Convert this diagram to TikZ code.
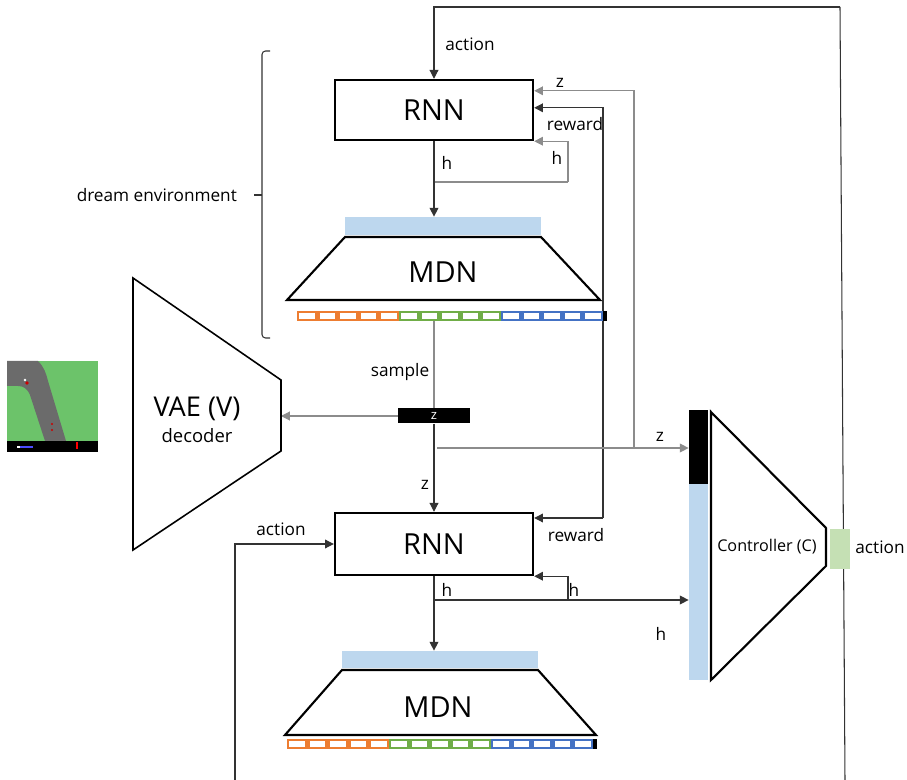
\documentclass[tikz,border=0pt]{standalone}
\usepackage{fontspec}
\setmainfont{Open Sans}
\usetikzlibrary{arrows.meta,calc}
\definecolor{mixorange}{HTML}{ED7D31}
\definecolor{mixgreen}{HTML}{70AD47}
\definecolor{mixblue}{HTML}{4472C4}
\definecolor{hidblue}{HTML}{BDD7EE}
\definecolor{actgreen}{HTML}{C5E0B4}
\definecolor{grass}{HTML}{6CC36A}
\definecolor{road}{HTML}{6B6B6B}
\begin{document}
\begin{tikzpicture}[x=0.02cm,y=-0.02cm,
  conn/.style={line width=0.6pt, draw=black!80},
  gconn/.style={line width=0.6pt, draw=black!45},
  arr/.style={-{Triangle[length=5pt,width=5pt]}},
  lbl/.style={font=\fontsize{9.8}{11}\selectfont, inner sep=1pt},
  big/.style={font=\fontsize{16.5}{18}\selectfont},
  rnnbox/.style={draw, line width=1.4pt, minimum width=3.96cm, minimum height=1.2cm, big, fill=white},
  hidbar/.style={fill=hidblue, draw=none, minimum width=3.92cm, minimum height=0.36cm, inner sep=0pt},
  trap/.style={line width=1.2pt, draw=black, line join=miter},
  mixstrip/.pic={
    \foreach \i in {0,...,14}{
      \ifnum\i<5 \def\cc{mixorange}\else\ifnum\i<10 \def\cc{mixgreen}\else\def\cc{mixblue}\fi\fi
      \fill[\cc] (\i*20.4,0) rectangle ++(20.4,10);
      \fill[white] (\i*20.4+2.4,2.2) rectangle ++(15.6,5.6);
    }
    \fill[black] (306,0) rectangle (310,10);
  }
]
\useasboundingbox (0,0) rectangle (907,780);

% ---- bracket for the dream environment ----
\draw[line width=0.6pt, black!80, rounded corners=2] (270,51) -- (262,51) -- (262,338) -- (270,338);
\draw[line width=0.6pt, black!80] (262,195) -- (254,195);
\node[lbl, anchor=east] (dream) at (239,195) {dream environment};

% ---- car racing frame ----
\begin{scope}
  \fill[grass] (7,361) rectangle (98,441);
  \fill[road] (7,361) -- (38,361) .. controls (44,367) and (46,373) .. (48,381) -- (66,441) -- (45,441) -- (30,395) .. controls (27,388) and (23,386) .. (18,386) -- (7,386) -- cycle;
  \fill[black] (7,441) rectangle (98,452);
  \fill[red!80!black] (27,383) circle (1.8);
  \fill[white] (25,380) circle (1.3);
  \fill[red!80!black] (52,424) circle (1.2);
  \fill[red!80!black] (52,430) circle (1.2);
  \fill[blue!70] (18,446.5) rectangle (33,448);
  \fill[white] (17,446.5) rectangle (20,448);
  \fill[red] (76,442) rectangle (78,449);
\end{scope}

% ---- long action loop from controller back to the dreamt RNN ----
\coordinate (actTop) at (840,7);
\coordinate (actBot) at (845,780);
\draw[conn] (actBot) -- (actTop);

% ---- RNN blocks ----
\node[rnnbox] (rnnA) at (434,110) {RNN};
\node[rnnbox, minimum height=1.24cm] (rnnB) at (434,544) {RNN};

\draw[conn,arr] (actTop) -| (rnnA.north);
\node[lbl] (actAlbl) at (470,44) {action};

% ---- z into upper RNN and into controller ----
\coordinate (zsplit) at (634,448);
\coordinate (zstart) at (437,448);
\draw[gconn,arr] (zsplit) |- ($(rnnA.north east)+(0,12)$);
\node[lbl] (zAlbl) at (560,83) {z};

% ---- reward into both RNNs ----
\coordinate (rwd) at (603,518);
\draw[conn,arr] (rwd) |- ($(rnnA.north east)+(0,29)$);
\draw[conn,arr] (rwd) -- (rnnB.east |- rwd);
\node[lbl] (rwdAlbl) at (575,124) {reward};
\node[lbl] (rwdBlbl) at (576,535) {reward};

% ---- hidden state loop, upper RNN ----
\coordinate (hA) at (434,182);
\coordinate (hAloop) at (568,182);
\draw[gconn] (hA) -- (hAloop);
\draw[gconn,arr] (hAloop) |- (rnnA.south east);
\node[lbl] (hA1) at (447,163) {h};
\node[lbl] (hA2) at (557,158) {h};

% ---- upper MDN ----
\node[hidbar] (mdnAin) at (443,226) {};
\draw[conn,arr] (rnnA.south) -- (rnnA.south |- mdnAin.north);
\draw[trap] (345,237) -- (541,237) -- (600,300) -- (287,300) -- cycle;
\node[big] (mdnA) at (443,272) {MDN};
\coordinate (sampA) at (434,321);
\draw[gconn] (sampA) -- (434,409);
\pic at (297,311) {mixstrip};
\node[lbl] (samplbl) at (400,372) {sample};

% ---- sampled z ----
\node[fill=black, minimum width=1.44cm, minimum height=0.3cm, inner sep=0pt,
      text=white, font=\fontsize{7.5}{8}\selectfont] (zbox) at (434,416) {z};
\coordinate (vaeR) at (281,416);
\draw[gconn,arr] (zbox.west) -- (vaeR);
\draw[conn,arr] (zbox.south) -- (rnnB.north);
\node[lbl] (zBlbl) at (425,485) {z};

% ---- VAE decoder ----
\draw[line width=0.9pt] (133,278) -- (281,380) -- (281,451) -- (133,550) -- cycle;
\node[font=\fontsize{15.5}{17}\selectfont] (vae) at (197,409) {VAE (V)};
\node[font=\fontsize{10.5}{12}\selectfont] (vaesub) at (197,436) {decoder};

% ---- controller ----
\node[fill=black, minimum width=0.38cm, minimum height=1.48cm, inner sep=0pt] (ctrlZ) at (698.5,447) {};
\node[fill=hidblue, minimum width=0.38cm, minimum height=3.92cm, inner sep=0pt] (ctrlH) at (698.5,582) {};
\draw[trap] (711,412) -- (826,528) -- (826,566) -- (711,680) -- cycle;
\node[font=\fontsize{9.2}{11}\selectfont] (ctrl) at (767,547) {Controller (C)};
\node[fill=actgreen, minimum width=0.4cm, minimum height=0.82cm, inner sep=0pt] (actC) at (840,549) {};
\node[lbl] (actClbl) at (880,547) {action};
\draw[gconn,arr] (zstart) -- (ctrlZ.west |- zstart);
\node[lbl] (zClbl) at (660,437) {z};

% ---- action into lower RNN ----
\coordinate (actL) at (235,780);
\draw[conn,arr] (actL) |- (rnnB.west);
\node[lbl] (actBlbl) at (281,529) {action};

% ---- hidden state, lower RNN ----
\coordinate (hB) at (434,600);
\coordinate (hBloop) at (568,600);
\node[hidbar, minimum height=0.34cm] (mdnBin) at (440,659.5) {};
\draw[conn] (rnnB.south) -- (hB);
\draw[conn,arr] (hB) -- (rnnB.south |- mdnBin.north);
\draw[conn,arr] (hB) -- (ctrlH.west |- hB);
\draw[conn,arr] (hBloop) |- (rnnB.south east);
\node[lbl] (hB1) at (447,590) {h};
\node[lbl] (hB2) at (574,590) {h};
\node[lbl] (hB3) at (661,634) {h};

% ---- lower MDN ----
\draw[trap] (342,670) -- (538,670) -- (596,735) -- (285,735) -- cycle;
\node[big] (mdnB) at (438,707) {MDN};
\pic at (287,739) {mixstrip};

\end{tikzpicture}
\end{document}
